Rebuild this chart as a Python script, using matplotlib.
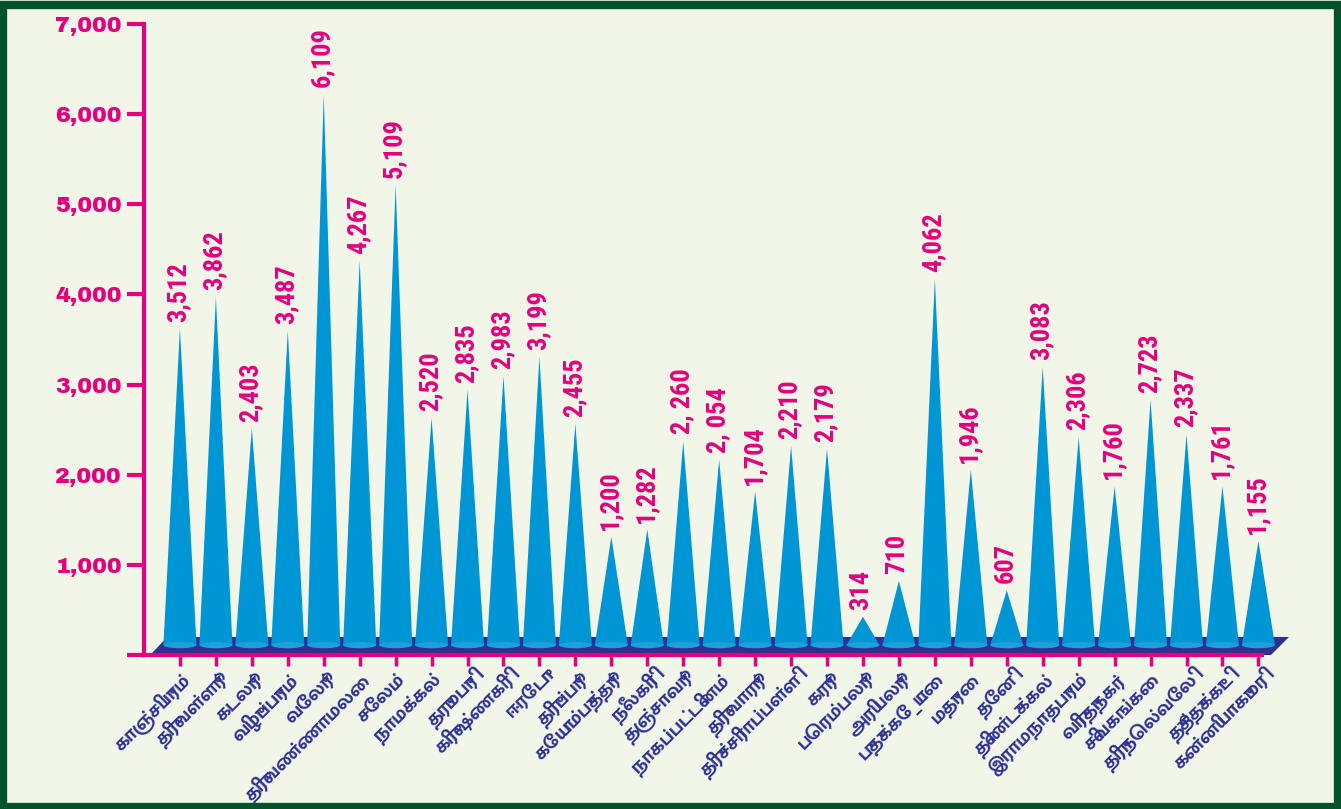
import os
import matplotlib
matplotlib.use("Agg")
from matplotlib import pyplot as plt
from matplotlib import font_manager
from matplotlib.patches import Polygon, Ellipse, Rectangle
from matplotlib.ticker import FuncFormatter

districts = ["காஞ்சிபுரம்", "திருவள்ளூர்", "கடலூர்", "விழுப்புரம்", "வேலூர்",
             "திருவண்ணாமலை", "சேலம்", "நாமக்கல்", "தருமபுரி", "கிருஷ்ணகிரி",
             "ஈரோடு", "திருப்பூர்", "கோயம்புத்தூர்", "நீலகிரி", "தஞ்சாவூர்",
             "நாகப்பட்டினம்", "திருவாரூர்", "திருச்சிராப்பள்ளி", "கரூர்", "பெரம்பலூர்",
             "அரியலூர்", "புதுக்கோ_டை", "மதுரை", "தேனி", "திண்டுக்கல்",
             "இராமநாதபுரம்", "விருதுநகர்", "சிவகங்கை", "திருநெல்வேலி", "தூத்துக்குடி",
             "கன்னியாகுமரி"]
values = [3512, 3862, 2403, 3487, 6109, 4267, 5109, 2520, 2835, 2983,
          3199, 2455, 1200, 1282, 2260, 2054, 1704, 2210, 2179, 314,
          710, 4062, 1946, 607, 3083, 2306, 1760, 2723, 2337, 1761,
          1155]
value_text = ["3,512", "3,862", "2,403", "3,487", "6,109", "4,267", "5,109", "2,520", "2,835", "2,983",
              "3,199", "2,455", "1,200", "1,282", "2, 260", "2, 054", "1,704", "2,210", "2,179", "314",
              "710", "4,062", "1,946", "607", "3,083", "2,306", "1,760", "2,723", "2,337", "1,761",
              "1,155"]
y_ticks = [0, 1000, 2000, 3000, 4000, 5000, 6000, 7000]

magenta = "#e5007d"
cone_blue = "#0096d6"
base_blue = "#1fa0da"
floor_navy = "#2e3192"
bg = "#f1f6e8"
frame = "#03522b"

all_fonts = {os.path.basename(f): f for f in font_manager.findSystemFonts()}


def pick(names, size, fallback_family="Liberation Sans"):
    for nm in names:
        if nm in all_fonts:
            return font_manager.FontProperties(fname=all_fonts[nm], size=size)
    return font_manager.FontProperties(family=fallback_family, weight="bold", size=size)


tamil_font = pick(["MuktaMalar-Bold.ttf", "HindMadurai-Bold.ttf", "Lohit-Tamil.ttf"], 14.5,
                  "DejaVu Sans")
value_font = pick(["LiberationSansNarrow-Bold.ttf", "RobotoCondensed-Bold.ttf",
                   "ArchivoNarrow-Bold.ttf", "PTSansNarrow-Bold.ttf"], 19)
tick_font = pick(["ArchivoBlack-Regular.ttf", "LiberationSans-Bold.ttf"], 16)

fig = plt.figure(figsize=(13.41, 8.09), dpi=100, facecolor=bg)
fig.patches.append(Rectangle((0.002, 0.003), 0.996, 0.991, transform=fig.transFigure,
                             fill=False, edgecolor=frame, linewidth=6))

ax = fig.add_axes([144 / 1341, 154 / 809, (1262 - 144) / 1341, 631 / 809])
ax.set_facecolor(bg)

n = len(values)
depth = 200
mid = 110
hw = 0.46

# floor of the 3d look
floor = Polygon([(-0.83, 0), (-0.35, depth), (30.85, depth), (30.35, 0)],
                closed=True, facecolor=floor_navy, edgecolor="none", zorder=1, clip_on=False)
ax.add_patch(floor)

for i, v in enumerate(values):
    cone = Polygon([(i - hw, mid), (i, v + mid), (i + hw, mid)], closed=True,
                   facecolor=cone_blue, edgecolor="none", zorder=2, clip_on=False)
    ax.add_patch(cone)
    ax.add_patch(Ellipse((i, mid), 2 * hw, 70, facecolor=base_blue,
                         edgecolor="none", zorder=2, clip_on=False))
    ax.annotate(value_text[i], (i, v + mid), xytext=(-1, 5), textcoords="offset points",
                rotation=90, ha="center", va="bottom", color=magenta,
                fontproperties=value_font)

ax.set_xlim(-1, 30.1)
ax.set_ylim(0, 7000)
ax.set_yticks(y_ticks)
ax.yaxis.set_major_formatter(FuncFormatter(lambda v, p: "" if v == 0 else f"{int(v):,}"))
for lab in ax.get_yticklabels():
    lab.set_fontproperties(tick_font)
ax.tick_params(axis="y", colors=magenta, length=12, width=3, pad=4)

ax.set_xticks(range(n))
ax.set_xticklabels(districts, rotation=45, ha="right", va="top", rotation_mode="anchor",
                   fontproperties=tamil_font, color=floor_navy)
ax.tick_params(axis="x", colors=magenta, length=8, width=2.5, pad=3)
for lab in ax.get_xticklabels():
    lab.set_color(floor_navy)

for s in ["top", "right"]:
    ax.spines[s].set_visible(False)
ax.spines["left"].set_color(magenta)
ax.spines["left"].set_linewidth(3)
ax.spines["bottom"].set_color(magenta)
ax.spines["bottom"].set_linewidth(3)
ax.spines["bottom"].set_zorder(3)

fig.savefig("out.png", dpi=100, facecolor=bg)
